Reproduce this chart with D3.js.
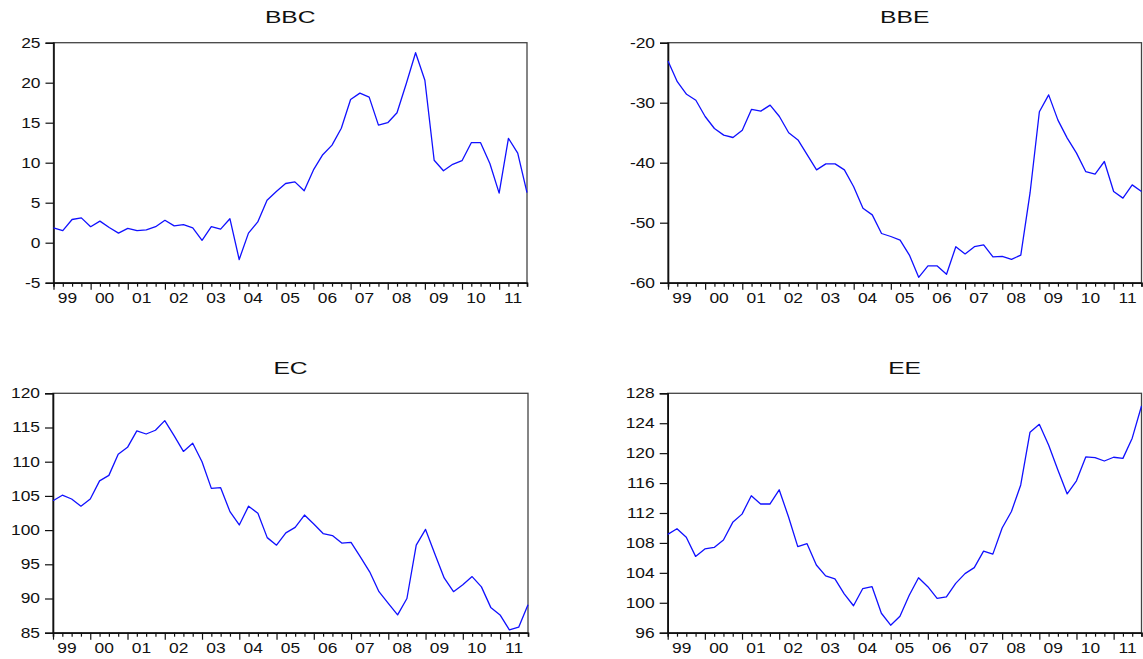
<!DOCTYPE html>
<html>
<head>
<meta charset="utf-8">
<script src="https://cdn.jsdelivr.net/npm/d3@7"></script>
<style>
  html, body { margin: 0; padding: 0; background: #fff; }
  svg { display: block; }
</style>
</head>
<body>
<svg id="chart" width="1143" height="659"></svg>
<script>
// Quarterly observations 1999Q1 .. 2011Q4
const yearLabels = ["99","00","01","02","03","04","05","06","07","08","09","10","11"];

const bbc = [1.85,1.5,2.9,3.1,2.0,2.7,1.9,1.2,1.8,1.5,1.6,2.0,2.8,2.1,2.25,1.85,0.3,2.0,1.7,3.0,-2.1,1.2,2.6,5.3,6.4,7.4,7.6,6.5,9.1,11.0,12.2,14.3,17.9,18.7,18.2,14.7,15.0,16.25,19.9,23.75,20.3,10.3,9.0,9.8,10.25,12.5,12.5,9.9,6.2,13.05,11.2,6.25];
const bbe = [-23.05,-26.5,-28.6,-29.6,-32.3,-34.3,-35.4,-35.8,-34.6,-31.1,-31.4,-30.4,-32.3,-35.0,-36.2,-38.7,-41.2,-40.2,-40.2,-41.2,-44.0,-47.6,-48.7,-51.8,-52.3,-52.9,-55.4,-59.1,-57.2,-57.2,-58.6,-54.0,-55.2,-54.0,-53.7,-55.7,-55.6,-56.1,-55.4,-45.0,-31.5,-28.7,-32.9,-35.9,-38.4,-41.5,-41.9,-39.8,-44.8,-45.9,-43.7,-44.8];
const ec = [104.3,105.1,104.55,103.5,104.55,107.2,108.0,111.1,112.1,114.5,114.05,114.6,116.0,113.8,111.5,112.7,110.0,106.1,106.2,102.7,100.75,103.5,102.45,98.9,97.8,99.6,100.4,102.2,100.9,99.5,99.2,98.1,98.2,96.1,93.9,91.0,89.3,87.6,90.0,97.8,100.1,96.5,93.0,91.0,92.0,93.2,91.7,88.7,87.6,85.4,85.8,89.1];
const ee = [109.15,109.9,108.75,106.2,107.2,107.4,108.4,110.75,111.85,114.3,113.2,113.2,115.1,111.5,107.5,107.9,105.05,103.6,103.2,101.2,99.6,101.9,102.15,98.6,97.0,98.2,101.0,103.35,102.15,100.6,100.8,102.6,103.9,104.7,106.9,106.5,110.0,112.2,115.75,122.8,123.85,121.1,117.75,114.55,116.3,119.5,119.4,118.95,119.45,119.3,122.0,126.3];

const titles = ["BBC","BBE","EC","EE"];
const yDomains = [[-5,25],[-60,-20],[85,120],[96,128]];
const yTicks = [[-5,0,5,10,15,20,25],[-60,-50,-40,-30,-20],[85,90,95,100,105,110,115,120],[96,100,104,108,112,116,120,124,128]];
const seriesList = [bbc, bbe, ec, ee];

const panels = [
  {x0:53.5, x1:527,   y0:42.7,  y1:282.7},
  {x0:668,  x1:1141.5, y0:42.7,  y1:282.7},
  {x0:53,   x1:528,   y0:393.3, y1:632.7},
  {x0:667.7,x1:1141.5, y0:393.3, y1:632.7}
];

const svg = d3.select("#chart");
svg.append("rect").attr("width",1143).attr("height",659).attr("fill","#fff");

const FONT = "'Liberation Sans', Arial, sans-serif";

function stretchedText(g, x, y, txt, size, sx, anchor, baseline) {
  const t = g.append("g").attr("transform", `translate(${x},${y})`)
    .append("text")
    .attr("transform", `scale(${sx},1)`)
    .attr("font-family", FONT)
    .attr("font-size", size)
    .attr("fill", "#111")
    .attr("text-anchor", anchor)
    .text(txt);
  if (baseline) t.attr("dominant-baseline", baseline);
  return t;
}

panels.forEach((p, k) => {
  const data = seriesList[k];
  const n = data.length;
  const x = d3.scaleLinear().domain([0, n - 1]).range([p.x0, p.x1]);
  const y = d3.scaleLinear().domain(yDomains[k]).range([p.y1, p.y0]);
  const g = svg.append("g");

  // frame
  g.append("rect")
    .attr("x", p.x0).attr("y", p.y0)
    .attr("width", p.x1 - p.x0).attr("height", p.y1 - p.y0)
    .attr("fill", "none").attr("stroke", "#444").attr("stroke-width", 1.3);

  // y axis
  const yAxis = d3.axisLeft(y).tickValues(yTicks[k]).tickSize(8).tickFormat("");
  const ya = g.append("g").attr("transform", `translate(${p.x0},0)`).call(yAxis);
  ya.select(".domain").attr("stroke", "#111").attr("stroke-width", 1.6);
  ya.selectAll(".tick line").attr("stroke", "#111").attr("stroke-width", 1.2);
  yTicks[k].forEach(v => {
    stretchedText(g, p.x0 - 13, y(v), String(v), 14.5, 1.2, "end", "central");
  });

  // x axis (quarterly ticks, tall at Q1)
  const xa = g.append("g").attr("transform", `translate(0,${p.y1})`)
    .call(d3.axisBottom(x).tickValues(d3.range(n)).tickSize(4).tickFormat(""));
  xa.select(".domain").attr("stroke", "#111").attr("stroke-width", 1.6);
  xa.selectAll(".tick line")
    .attr("stroke", "#111").attr("stroke-width", 1.2)
    .attr("y2", d => (d % 4 === 0 ? 7 : 4));
  yearLabels.forEach((lab, j) => {
    stretchedText(g, x(j * 4 + 1.5), p.y1 + 20.5, lab, 14.5, 1.2, "middle");
  });

  // title
  stretchedText(g, (p.x0 + p.x1) / 2, p.y0 - 19.5, titles[k], 17, 1.45, "middle");

  // series line
  const line = d3.line().x((d, i) => x(i)).y(d => y(d));
  g.append("path")
    .datum(data)
    .attr("d", line)
    .attr("fill", "none")
    .attr("stroke", "#1010ff")
    .attr("stroke-width", 1.3)
    .attr("stroke-linejoin", "round");
});
</script>
</body>
</html>
